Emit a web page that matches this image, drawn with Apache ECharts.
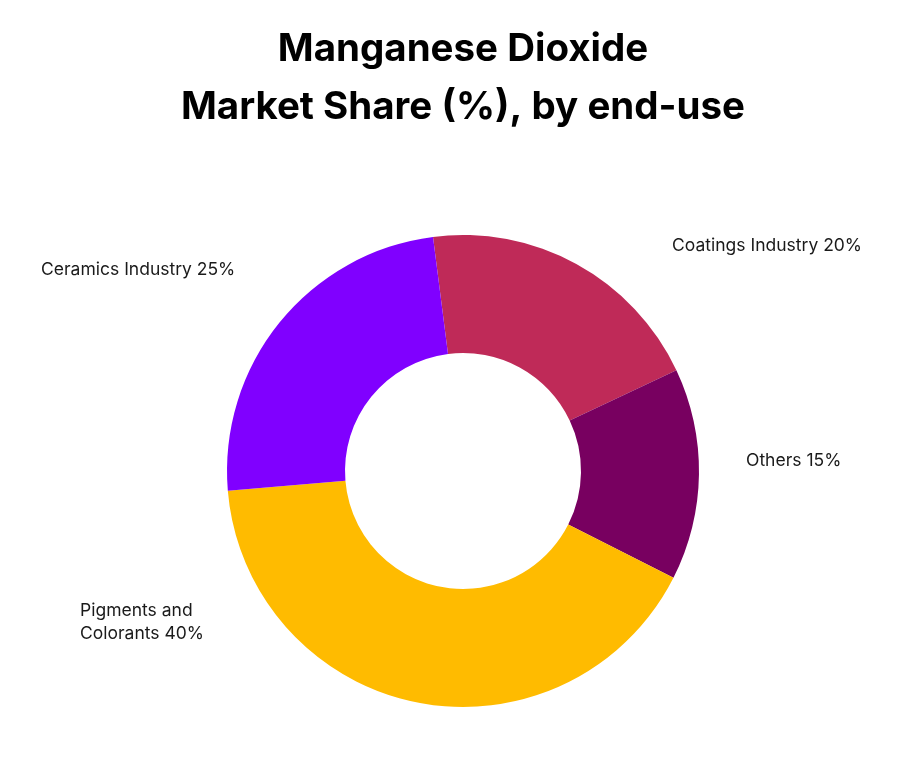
<!DOCTYPE html>
<html>
<head>
<meta charset="utf-8">
<script src="https://cdn.jsdelivr.net/npm/echarts@6/dist/echarts.min.js"></script>
<style>
html,body{margin:0;padding:0;background:#fff;}
#chart{width:905px;height:758px;}
</style>
</head>
<body>
<div id="chart"></div>
<script>
const titleLines = ['Manganese Dioxide', 'Market Share (%), by end-use'];
const categories = ['Coatings Industry', 'Others', 'Pigments and\nColorants', 'Ceramics Industry'];
const values = [20, 14.5, 41.2, 24.3];
// percentages printed in the labels
const labelPercents = [20, 15, 40, 25];
const colors = ['#BF2A58', '#780060', '#FFBB00', '#8000FF'];
// label anchor (left edge, vertical middle) per category
const labelPos = [[672, 246], [746, 461], [80, 622], [41, 270]];

const chart = echarts.init(document.getElementById('chart'), null, {renderer: 'canvas'});
chart.setOption({
  backgroundColor: '#ffffff',
  animation: false,
  title: {
    text: titleLines.join('\n'),
    left: 458,
    textAlign: 'center',
    top: 15,
    textStyle: {
      fontFamily: 'Inter',
      fontWeight: 'bold',
      fontSize: 38.5,
      lineHeight: 58,
      color: '#000000'
    }
  },
  series: [{
    type: 'pie',
    center: [463, 471],
    radius: [118, 236],
    startAngle: 97.3,
    clockwise: true,
    avoidLabelOverlap: false,
    label: {
      show: true,
      formatter: p => p.name + ' ' + labelPercents[p.dataIndex] + '%',
      fontFamily: 'Inter',
      fontSize: 17.5,
      lineHeight: 23,
      color: '#1a1a1a'
    },
    labelLine: {show: false},
    labelLayout: params => ({
      x: labelPos[params.dataIndex][0],
      y: labelPos[params.dataIndex][1],
      align: 'left',
      verticalAlign: 'middle'
    }),
    itemStyle: {borderWidth: 0},
    emphasis: {disabled: true},
    data: categories.map((c, i) => ({name: c, value: values[i], itemStyle: {color: colors[i]}}))
  }]
});
</script>
</body>
</html>
